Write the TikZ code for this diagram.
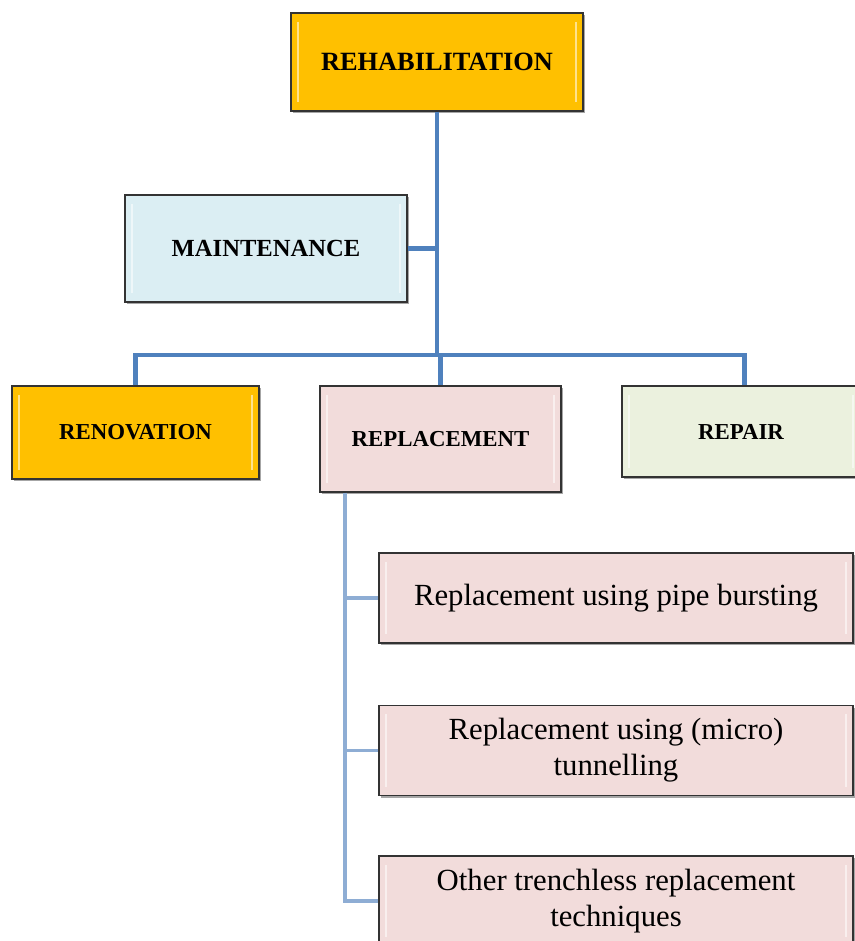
\documentclass[tikz,border=0pt]{standalone}
\usepackage{fontspec}
\setmainfont{Liberation Serif}
\usetikzlibrary{positioning, shadows}
\definecolor{rehabgold}{HTML}{FFC000}
\definecolor{iceblue}{HTML}{DBEEF3}
\definecolor{rosepink}{HTML}{F2DCDB}
\definecolor{sagegreen}{HTML}{EBF1DE}
\definecolor{trunkblue}{HTML}{4F81BD}
\definecolor{twigblue}{HTML}{8EADD4}
\tikzset{
	box/.style={draw=black!80, line width=0.8pt, align=center, inner sep=2pt,
		drop shadow={shadow xshift=1.2pt, shadow yshift=-1.2pt, opacity=0.35, fill=black},
		path picture={
			\draw[white, opacity=0.55, line width=1.6pt]
				([xshift=4pt,yshift=5pt]path picture bounding box.south west) --
				([xshift=4pt,yshift=-5pt]path picture bounding box.north west)
				([xshift=-4pt,yshift=5pt]path picture bounding box.south east) --
				([xshift=-4pt,yshift=-5pt]path picture bounding box.north east);
		}},
	capsbox/.style={box, font=\bfseries\fontsize{13}{16}\selectfont},
	subbox/.style={box, fill=rosepink, minimum width=9.48cm, minimum height=1.8cm,
		font=\fontsize{17.5}{20.5}\selectfont},
	trunk/.style={draw=trunkblue, line width=2.6pt},
	twig/.style={draw=twigblue, line width=2.1pt},
}
\begin{document}
\begin{tikzpicture}[x=0.02cm, y=-0.02cm]
	\useasboundingbox (0,0) rectangle (855,941);

	% nodes - top of the tree %
	\node[box, fill=rehabgold, minimum width=5.84cm, minimum height=1.96cm,
		font=\bfseries\fontsize{15}{18}\selectfont] (rehab) at (437,62) {REHABILITATION};
	\node[box, fill=iceblue, minimum width=5.64cm, minimum height=2.14cm,
		font=\bfseries\fontsize{14}{17}\selectfont] (maint) at (266,248.5) {MAINTENANCE};

	% nodes - second row %
	\node[capsbox, fill=rehabgold, minimum width=4.94cm, minimum height=1.86cm] (renov) at (135.5,432.5) {RENOVATION};
	\node[capsbox, fill=rosepink, minimum width=4.82cm, minimum height=2.12cm] (replace) at (440.5,439) {REPLACEMENT};
	\node[capsbox, fill=sagegreen, minimum width=4.76cm, minimum height=1.82cm] (repair) at (741,431.5) {REPAIR};

	% nodes - replacement methods %
	\node[subbox] (burst) at (616,598) {Replacement using pipe bursting};
	\node[subbox] (tunnel) at (616,750.5) {Replacement using (micro)\\tunnelling};
	\node[subbox] (other) at (616,901) {Other trenchless replacement\\techniques};

	% edges %
	\coordinate (split) at (437,355);
	\coordinate (spine) at (345,492);
	\draw[trunk] (rehab.south) -- (split);
	\draw[trunk] (maint.east) -- (maint.east -| split);
	\draw[trunk] (renov.north) |- (split) -| ([xshift=2pt]repair.north);
	\draw[trunk] (replace.north) -- (replace.north |- split);
	\draw[twig] (replace.south -| spine) |- (other.west);
	\draw[twig] (burst.west -| spine) -- (burst.west);
	\draw[twig] (tunnel.west -| spine) -- (tunnel.west);

\end{tikzpicture}
\end{document}
